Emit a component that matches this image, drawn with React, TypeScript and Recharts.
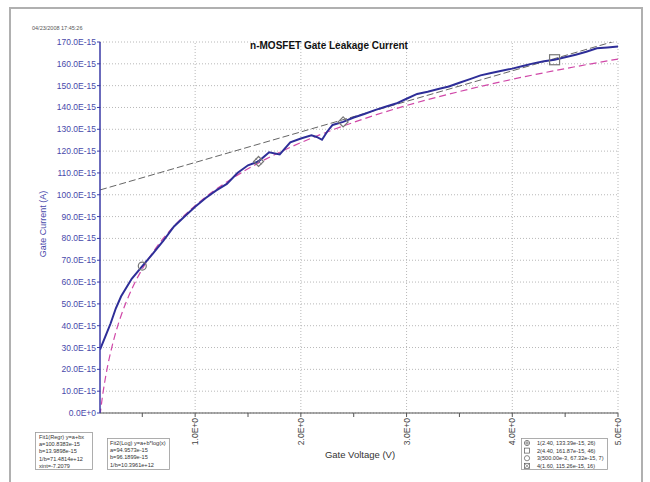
import React from "react";
import {
  ComposedChart,
  Line,
  Scatter,
  XAxis,
  YAxis,
  CartesianGrid,
  ReferenceLine,
} from "recharts";

// Measured gate current (x1e-15 A) vs gate voltage (V)
const voltage = [0.1, 0.15, 0.2, 0.25, 0.3, 0.4, 0.5, 0.6, 0.7, 0.8, 0.9, 1.0, 1.1, 1.2, 1.3, 1.4, 1.5, 1.6, 1.7, 1.8, 1.9, 2.0, 2.1, 2.15, 2.2, 2.25, 2.3, 2.4, 2.5, 2.6, 2.7, 2.8, 2.9, 3.0, 3.1, 3.2, 3.3, 3.4, 3.5, 3.6, 3.7, 3.8, 3.9, 4.0, 4.1, 4.2, 4.3, 4.4, 4.5, 4.6, 4.7, 4.8, 4.9, 5.0];
const current = [29, 35, 41, 48, 53.5, 61.5, 67.3, 73, 79, 85.5, 90, 94.5, 98.5, 102, 105, 110, 113.5, 115.3, 119.5, 118.5, 124, 125.8, 127.2, 126.5, 125.2, 129, 132, 133.4, 135.4, 137, 138.8, 140.3, 141.8, 144, 146.2, 147.2, 148.5, 149.6, 151.3, 153, 154.7, 155.8, 156.8, 157.8, 159, 160.2, 161.2, 161.9, 163, 164.2, 165.5, 167.1, 167.5, 167.9];

// Fit1 (linear regression) line
const fitLinV = [0.1, 5.0];
const fitLinI = [102.2, 170.8];

// Fit2 (log) curve
const fitLogV = [0.1, 0.11, 0.12, 0.13, 0.15, 0.17, 0.2, 0.25, 0.3, 0.4, 0.5, 0.6, 0.7, 0.8, 0.9, 1.0, 1.2, 1.4, 1.6, 1.8, 2.0, 2.5, 3.0, 3.5, 4.0, 4.5, 5.0];
const fitLogI = [-1.2, 2.8, 6.4, 9.8, 15.7, 21.0, 27.7, 37.1, 44.7, 56.7, 66.0, 73.6, 80.1, 85.6, 90.6, 95.0, 102.6, 109.0, 114.6, 119.5, 123.9, 133.2, 140.9, 147.3, 152.9, 157.8, 162.2];

// Cursor markers
const markerV = [2.4, 4.4, 0.5, 1.6];
const markerI = [133.39, 161.87, 67.32, 115.26];
const markerKind = ["diamond", "square", "circle", "xsquare"];
const markerText = [
  "1(2.40, 133.39e-15, 26)",
  "2(4.40, 161.87e-15, 46)",
  "3(500.00e-3, 67.32e-15, 7)",
  "4(1.60, 115.26e-15, 16)",
];

const yTicks = [0, 10, 20, 30, 40, 50, 60, 70, 80, 90, 100, 110, 120, 130, 140, 150, 160, 170];
const xTicks = [0.5, 1, 1.5, 2, 2.5, 3, 3.5, 4, 4.5, 5];
const xMajor = [1, 2, 3, 4, 5];

const fit1Text = ["Fit1(Regr)  y=a+bx", "a=100.8383e-15", "b=13.9898e-15", "1/b=71.4814e+12", "xint=-7.2079"];
const fit2Text = ["Fit2(Log)  y=a+b*log(x)", "a=94.9573e-15", "b=96.1899e-15", "1/b=10.3961e+12"];

const dataMain = voltage.map((v, k) => ({ v, i: current[k] }));
const dataLin = fitLinV.map((v, k) => ({ v, i: fitLinI[k] }));
const dataLog = fitLogV.map((v, k) => ({ v, i: fitLogI[k] }));
const dataMarkers = markerV.map((v, k) => ({ v, i: markerI[k], kind: markerKind[k] }));

const FONT = "'Liberation Sans', Arial, sans-serif";
const BLUE = "#3a3aa6";

const fmtY = (v: number) => (v === 0 ? "0.0E+0" : `${v}.0E-15`);

const YTick = (props: any) => {
  const { x, y, payload } = props;
  return (
    <text x={x} y={y} dy={3} textAnchor="end" fontSize={8.5} fill="#4848aa" fontFamily={FONT}>
      {fmtY(payload.value)}
    </text>
  );
};

const XTick = (props: any) => {
  const { x, y, payload } = props;
  if (!Number.isInteger(payload.value)) return <g />;
  return (
    <g transform={`translate(${x},${y})`}>
      <text x={0} y={3} transform="rotate(-90)" textAnchor="end" fontSize={8.5} fill="#444" fontFamily={FONT}>
        {`${payload.value}.0E+0`}
      </text>
    </g>
  );
};

const MarkerShape = (props: any) => {
  const { cx, cy, payload } = props;
  const c = "#777";
  if (cx == null || cy == null) return <g />;
  switch (payload.kind) {
    case "square":
      return <rect x={cx - 5} y={cy - 5} width={10} height={10} fill="none" stroke={c} strokeWidth={1.2} />;
    case "circle":
      return <circle cx={cx} cy={cy} r={4} fill="none" stroke={c} strokeWidth={1.2} />;
    case "diamond":
      return (
        <g>
          <path d={`M${cx},${cy - 5} L${cx + 5},${cy} L${cx},${cy + 5} L${cx - 5},${cy} Z`} fill="none" stroke={c} strokeWidth={1.2} />
        </g>
      );
    default:
      return (
        <g>
          <path d={`M${cx},${cy - 5} L${cx + 5},${cy} L${cx},${cy + 5} L${cx - 5},${cy} Z`} fill="none" stroke={c} strokeWidth={1.2} />
          <path d={`M${cx - 3},${cy - 3} L${cx + 3},${cy + 3} M${cx + 3},${cy - 3} L${cx - 3},${cy + 3}`} stroke={c} strokeWidth={0.8} />
        </g>
      );
  }
};

const LegendSymbol = ({ kind, x, y }: { kind: string; x: number; y: number }) => {
  const c = "#555";
  if (kind === "square") return <rect x={x - 2.5} y={y - 2.5} width={5} height={5} fill="none" stroke={c} strokeWidth={0.7} />;
  if (kind === "circle") return <circle cx={x} cy={y} r={2.6} fill="none" stroke={c} strokeWidth={0.7} />;
  if (kind === "diamond")
    return (
      <g>
        <circle cx={x} cy={y} r={2.6} fill="none" stroke={c} strokeWidth={0.7} />
        <path d={`M${x},${y - 2.6} L${x},${y + 2.6} M${x - 2.6},${y} L${x + 2.6},${y}`} stroke={c} strokeWidth={0.6} />
      </g>
    );
  return (
    <g>
      <rect x={x - 2.5} y={y - 2.5} width={5} height={5} fill="none" stroke={c} strokeWidth={0.7} />
      <path d={`M${x - 2.5},${y - 2.5} L${x + 2.5},${y + 2.5} M${x + 2.5},${y - 2.5} L${x - 2.5},${y + 2.5}`} stroke={c} strokeWidth={0.6} />
    </g>
  );
};

export default function App() {
  return (
    <div style={{ position: "absolute", left: 0, top: 0, width: 650, height: 482, background: "#fff", overflow: "hidden" }}>
      <div
        style={{
          position: "absolute",
          left: 9,
          top: 7,
          width: 634,
          height: 480,
          border: "2px solid #b0b0b0",
          boxSizing: "border-box",
        }}
      />
      <div style={{ position: "absolute", left: 0, top: 0 }}>
        <ComposedChart width={650} height={482} margin={{ top: 42, right: 32, bottom: 29, left: 40 }}>
          <CartesianGrid vertical={false} stroke="#b8b8b8" strokeDasharray="1 2" />
          {xMajor.map((t) => (
            <ReferenceLine key={t} x={t} stroke="#b8b8b8" strokeDasharray="1 2" />
          ))}
          <XAxis
            type="number"
            dataKey="v"
            domain={[0.1, 5]}
            ticks={xTicks}
            allowDataOverflow
            height={40}
            tick={<XTick />}
            tickSize={4}
            tickMargin={1}
            axisLine={{ stroke: "#555" }}
            tickLine={{ stroke: "#555" }}
            interval={0}
          />
          <YAxis
            type="number"
            dataKey="i"
            domain={[0, 170]}
            ticks={yTicks}
            allowDataOverflow
            width={60}
            tick={<YTick />}
            tickSize={3}
            tickMargin={1}
            axisLine={{ stroke: BLUE, strokeWidth: 1.5 }}
            tickLine={{ stroke: BLUE }}
            interval={0}
          />
          <Line data={dataLin} dataKey="i" stroke="#666" strokeWidth={1} strokeDasharray="7 3" dot={false} isAnimationActive={false} />
          <Line data={dataLog} dataKey="i" stroke="#d048a8" strokeWidth={1.2} strokeDasharray="7 4" dot={false} isAnimationActive={false} type="monotone" />
          <Line data={dataMain} dataKey="i" stroke="#2e2e98" strokeWidth={2} dot={false} isAnimationActive={false} />
          <Scatter data={dataMarkers} dataKey="i" shape={<MarkerShape />} isAnimationActive={false} />
        </ComposedChart>
      </div>
      <svg width={650} height={482} style={{ position: "absolute", left: 0, top: 0, pointerEvents: "none" }}>
        <text x={32} y={30} fontSize={5.5} fill="#555" fontFamily={FONT}>04/23/2008 17:45:26</text>
        <text x={329} y={49} textAnchor="middle" fontSize={10} fontWeight="bold" fill="#111" fontFamily={FONT}>
          n-MOSFET Gate Leakage Current
        </text>
        <text x={360} y={458} textAnchor="middle" fontSize={9.5} fill="#333" fontFamily={FONT}>Gate Voltage (V)</text>
        <text x={46} y={224} transform="rotate(-90, 46, 224)" textAnchor="middle" fontSize={9} fill="#4848aa" fontFamily={FONT}>
          Gate Current (A)
        </text>
        <rect x={35.5} y={432.5} width={57} height={37} fill="#fff" stroke="#999" strokeWidth={0.8} />
        {fit1Text.map((t, k) => (
          <text key={t} x={39} y={438.5 + k * 7.4} fontSize={5.6} fill="#333" fontFamily={FONT}>{t}</text>
        ))}
        <rect x={107.5} y={438.5} width={62} height={31} fill="#fff" stroke="#999" strokeWidth={0.8} />
        {fit2Text.map((t, k) => (
          <text key={t} x={110} y={445 + k * 7.2} fontSize={5.6} fill="#333" fontFamily={FONT}>{t}</text>
        ))}
        <rect x={521.5} y={438.5} width={86} height={31} fill="#fff" stroke="#999" strokeWidth={0.8} />
        {markerText.map((t, k) => (
          <g key={t}>
            <LegendSymbol kind={markerKind[k]} x={527} y={443 + k * 7.6} />
            <text x={537} y={445 + k * 7.6} fontSize={5.6} fill="#333" fontFamily={FONT}>{t}</text>
          </g>
        ))}
      </svg>
    </div>
  );
}
